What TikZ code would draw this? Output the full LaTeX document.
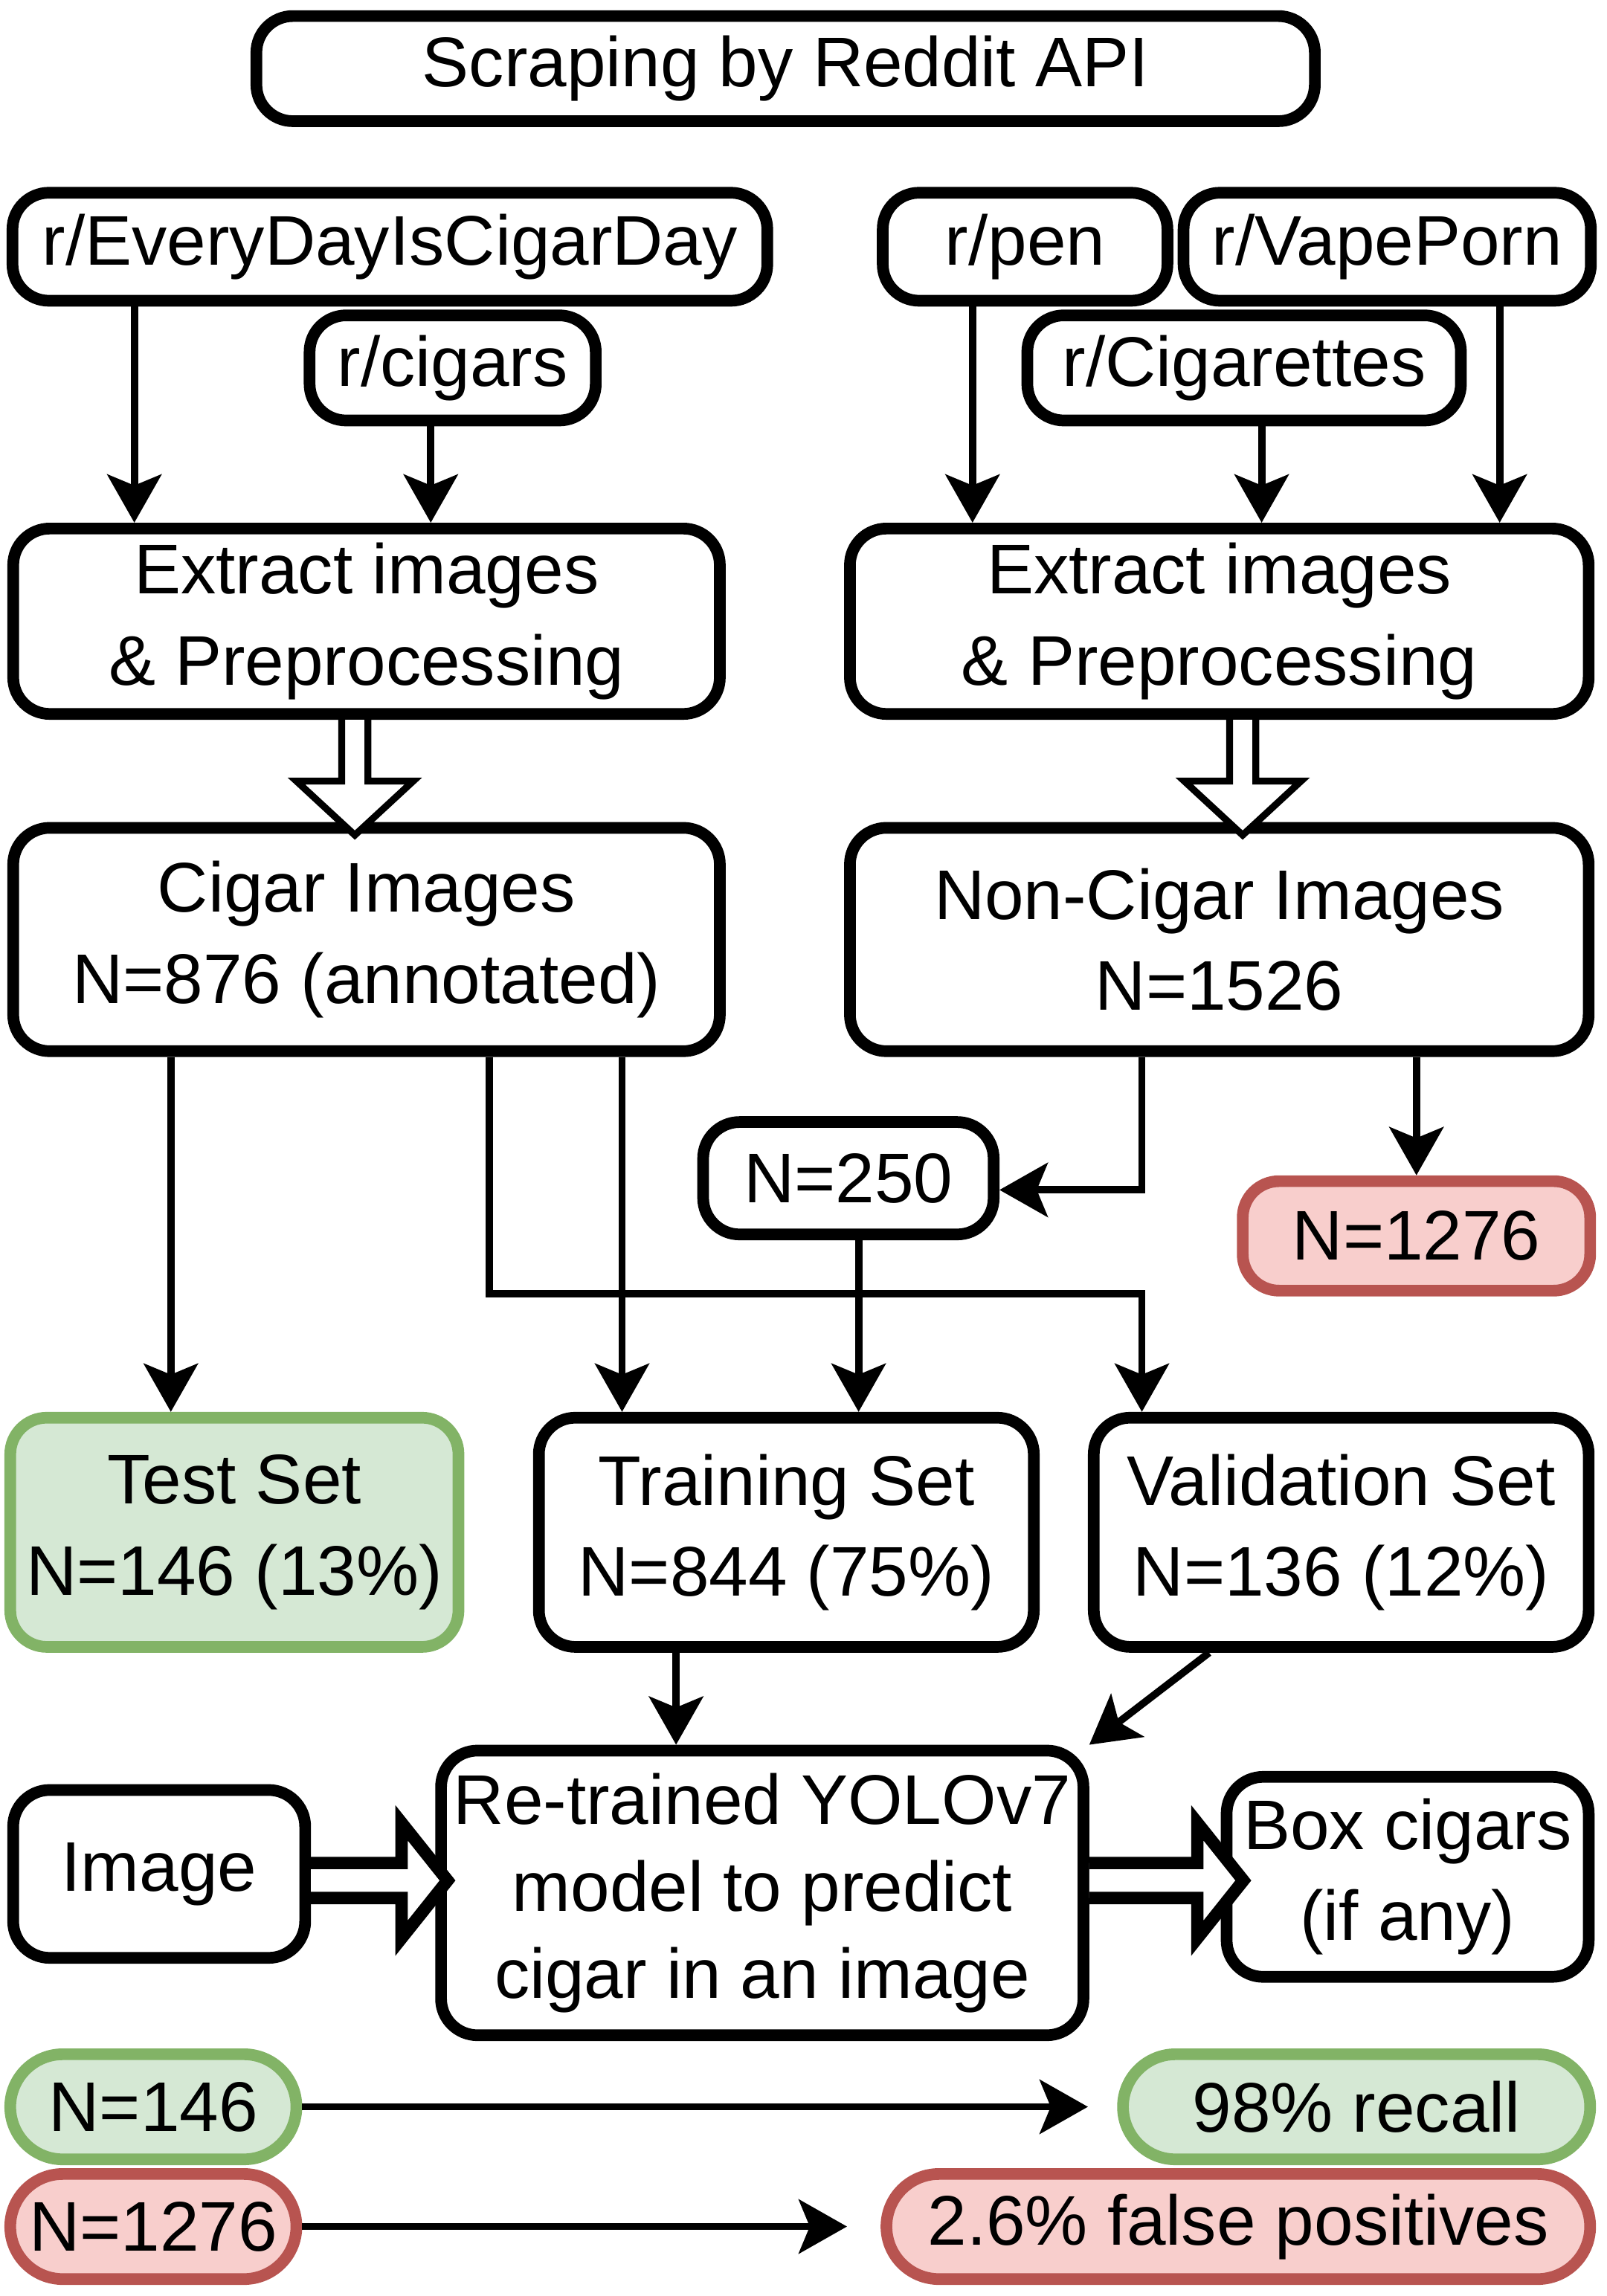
\documentclass[tikz,border=0pt]{standalone}
\usepackage{fontspec}
\setmainfont{Liberation Sans}
\usetikzlibrary{arrows.meta}
\usetikzlibrary{calc}
\definecolor{greenfill}{HTML}{D5E8D4}
\definecolor{greenline}{HTML}{82B366}
\definecolor{redfill}{HTML}{F8CECC}
\definecolor{redline}{HTML}{B85450}

\begin{document}
\begin{tikzpicture}[x=0.02cm, y=-0.02cm,
	>={Stealth[length=0.66cm, width=0.74cm, inset=0.15cm]},
	box/.style={draw, line width=0.16cm, rounded corners=0.5cm, fill=white,
		align=center, inner sep=0pt, font=\fontsize{27.4}{35.5}\selectfont},
	greenbox/.style={box, draw=greenline, fill=greenfill},
	redbox/.style={box, draw=redline, fill=redfill},
	pill/.style={rounded corners=0.72cm},
	link/.style={->, line width=0.1cm},
	hollow/.style={draw, fill=white, line width=0.094cm, line join=miter},
	hollowthick/.style={hollow, line width=0.17cm}]
	\useasboundingbox (0,0) rectangle (1100,1572.6);
	% sources
	\node[box, minimum width=14.5cm, minimum height=1.44cm] (scrape) at (538,47) {Scraping by Reddit API};
	\node[box, minimum width=10.34cm, minimum height=1.48cm] (evday) at (267,169) {r/EveryDayIsCigarDay};
	\node[box, minimum width=3.92cm, minimum height=1.44cm] (cigars) at (310,252) {r/cigars};
	\node[box, minimum width=3.9cm, minimum height=1.48cm] (pen) at (702,169) {r/pen};
	\node[box, minimum width=5.58cm, minimum height=1.48cm] (vape) at (950,169) {r/VapePorn};
	\node[box, minimum width=5.94cm, minimum height=1.44cm] (cigs) at (852,252) {r/Cigarettes};
	% preprocessing
	\node[box, minimum width=9.68cm, minimum height=2.54cm] (extL) at (251,425.5) {Extract images\\ \& Preprocessing};
	\node[box, minimum width=10.12cm, minimum height=2.54cm] (extR) at (835,425.5) {Extract images\\ \& Preprocessing};
	\node[box, minimum width=9.68cm, minimum height=3.06cm] (cigimg) at (251,643.5) {Cigar Images\\N=876 (annotated)};
	\node[box, minimum width=10.12cm, minimum height=3.06cm] (noncig) at (835,643.5) {Non-Cigar Images\\N=1526};
	\node[box, minimum width=3.98cm, minimum height=1.54cm] (n250) at (581,807) {N=250};
	\node[redbox, minimum width=4.76cm, minimum height=1.5cm] (n1276) at (970,846.5) {N=1276};
	% splits
	\node[greenbox, minimum width=6.14cm, minimum height=3.14cm] (test) at (160.5,1049.5) {Test Set\\N=146 (13\%)};
	\node[box, minimum width=6.78cm, minimum height=3.14cm] (train) at (538.5,1049.5) {Training Set\\N=844 (75\%)};
	\node[box, minimum width=6.78cm, minimum height=3.14cm] (valid) at (918.5,1049.5) {Validation Set\\N=136 (12\%)};
	% model
	\node[box, minimum width=4.0cm, minimum height=2.3cm] (img) at (109,1283.5) {Image};
	\node[box, minimum width=8.8cm, minimum height=3.9cm, font=\fontsize{27.4}{34}\selectfont] (yolo) at (522,1296.5) {Re-trained YOLOv7\\model to predict\\cigar in an image};
	\node[box, minimum width=4.96cm, minimum height=2.74cm] (boxc) at (964,1285.5) {Box cigars\\(if any)};
	% results
	\node[greenbox, pill, minimum width=3.92cm, minimum height=1.44cm] (n146) at (105,1443) {N=146};
	\node[greenbox, pill, minimum width=6.4cm, minimum height=1.44cm] (recall) at (929,1443) {98\% recall};
	\node[redbox, pill, minimum width=3.92cm, minimum height=1.44cm] (n1276b) at (105,1525) {N=1276};
	\node[redbox, pill, minimum width=9.64cm, minimum height=1.44cm] (fpos) at (848,1525) {2.6\% false positives};
	% arrows
	\draw[link] (92,0 |- evday.south) -- (92,0 |- extL.north);
	\draw[link] (295,0 |- cigars.south) -- (295,0 |- extL.north);
	\draw[link] (666,0 |- pen.south) -- (666,0 |- extR.north);
	\draw[link] (864,0 |- cigs.south) -- (864,0 |- extR.north);
	\draw[link] (1027,0 |- vape.south) -- (1027,0 |- extR.north);
	\draw[hollow] (234,0 |- extL.south) -- ++(0,42) -- ++(-31,0) -- ++(40,37) -- ++(40,-37) -- ++(-31,0) -- ++(0,-42);
	\draw[hollow] (842,0 |- extR.south) -- ++(0,42) -- ++(-31,0) -- ++(40,37) -- ++(40,-37) -- ++(-31,0) -- ++(0,-42);
	\draw[link] (117,0 |- cigimg.south) -- (117,0 |- test.north);
	\draw[link] (426,0 |- cigimg.south) -- (426,0 |- train.north);
	\draw[link] (335,0 |- cigimg.south) -- (335,886) -| (782,0 |- valid.north);
	\draw[link] (782,0 |- noncig.south) |- (n250.east |- 0,815);
	\draw[link] (970,0 |- noncig.south) -- (n1276.north);
	\draw[link] (588,0 |- n250.south) -- (588,0 |- train.north);
	\draw[link] (463,0 |- train.south) -- (463,0 |- yolo.north);
	\draw[link] (828,0 |- valid.south) -- (yolo.north east);
	\draw[hollowthick] (img.east |- 0,1276) -- ++(62,0) -- ++(0,-27.5) -- ++(31.5,39.5) -- ++(-31.5,39.5) -- ++(0,-27.5) -- ++(-62,0);
	\draw[hollowthick] (yolo.east |- 0,1276) -- ++(74,0) -- ++(0,-27.5) -- ++(31.5,39.5) -- ++(-31.5,39.5) -- ++(0,-27.5) -- ++(-74,0);
	\draw[link, shorten >=0.4cm] (n146.east) -- (recall.west);
	\draw[link, shorten >=0.46cm] (n1276b.east) -- (fpos.west);
\end{tikzpicture}
\end{document}
